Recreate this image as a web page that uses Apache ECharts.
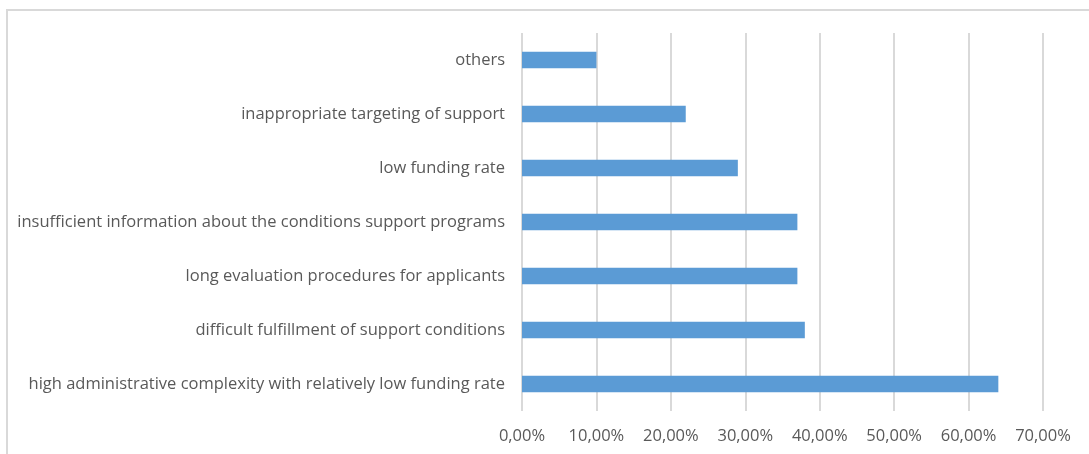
<!DOCTYPE html>
<html>
<head>
<meta charset="utf-8">
<script src="https://cdn.jsdelivr.net/npm/echarts@6/dist/echarts.min.js"></script>
<style>
html,body{margin:0;padding:0;background:#fff;}
#chart{width:1089px;height:454px;}
</style>
</head>
<body>
<div id="chart"></div>
<script>
// Categories listed bottom to top
const categories = [
  "high administrative complexity with relatively low funding rate",
  "difficult fulfillment of support conditions",
  "long evaluation procedures for applicants",
  "insufficient information about the conditions support programs",
  "low funding rate",
  "inappropriate targeting of support",
  "others"
];
const values = [64, 38, 37, 37, 29, 22, 10];
const xTicks = { min: 0, max: 70, interval: 10 };

const chart = echarts.init(document.getElementById('chart'), null, {renderer: 'canvas'});
const font = '"Open Sans", "Noto Sans", sans-serif';
chart.setOption({
  animation: false,
  backgroundColor: '#fff',
  graphic: [{
    type: 'rect',
    shape: {x: 7, y: 10, width: 1200, height: 600},
    style: {fill: 'none', stroke: '#d9d9d9', lineWidth: 2},
    silent: true
  }],
  grid: {left: 522, right: 46, top: 33, bottom: 43, containLabel: false},
  xAxis: {
    type: 'value',
    min: xTicks.min, max: xTicks.max, interval: xTicks.interval,
    axisLine: {show: false},
    axisTick: {show: false},
    splitLine: {show: true, lineStyle: {color: '#d9d9d9', width: 2}},
    axisLabel: {
      color: '#595959', fontSize: 16.5, fontFamily: font, margin: 17,
      formatter: v => v.toFixed(2).replace('.', ',') + '%'
    }
  },
  yAxis: {
    type: 'category',
    data: categories,
    axisLine: {show: false},
    axisTick: {show: false},
    splitLine: {show: false},
    axisLabel: {color: '#595959', fontSize: 16.5, fontFamily: font, margin: 17}
  },
  series: [{
    type: 'bar',
    data: values,
    barWidth: '31%',
    itemStyle: {color: '#5b9bd5'}
  }]
});
</script>
</body>
</html>
